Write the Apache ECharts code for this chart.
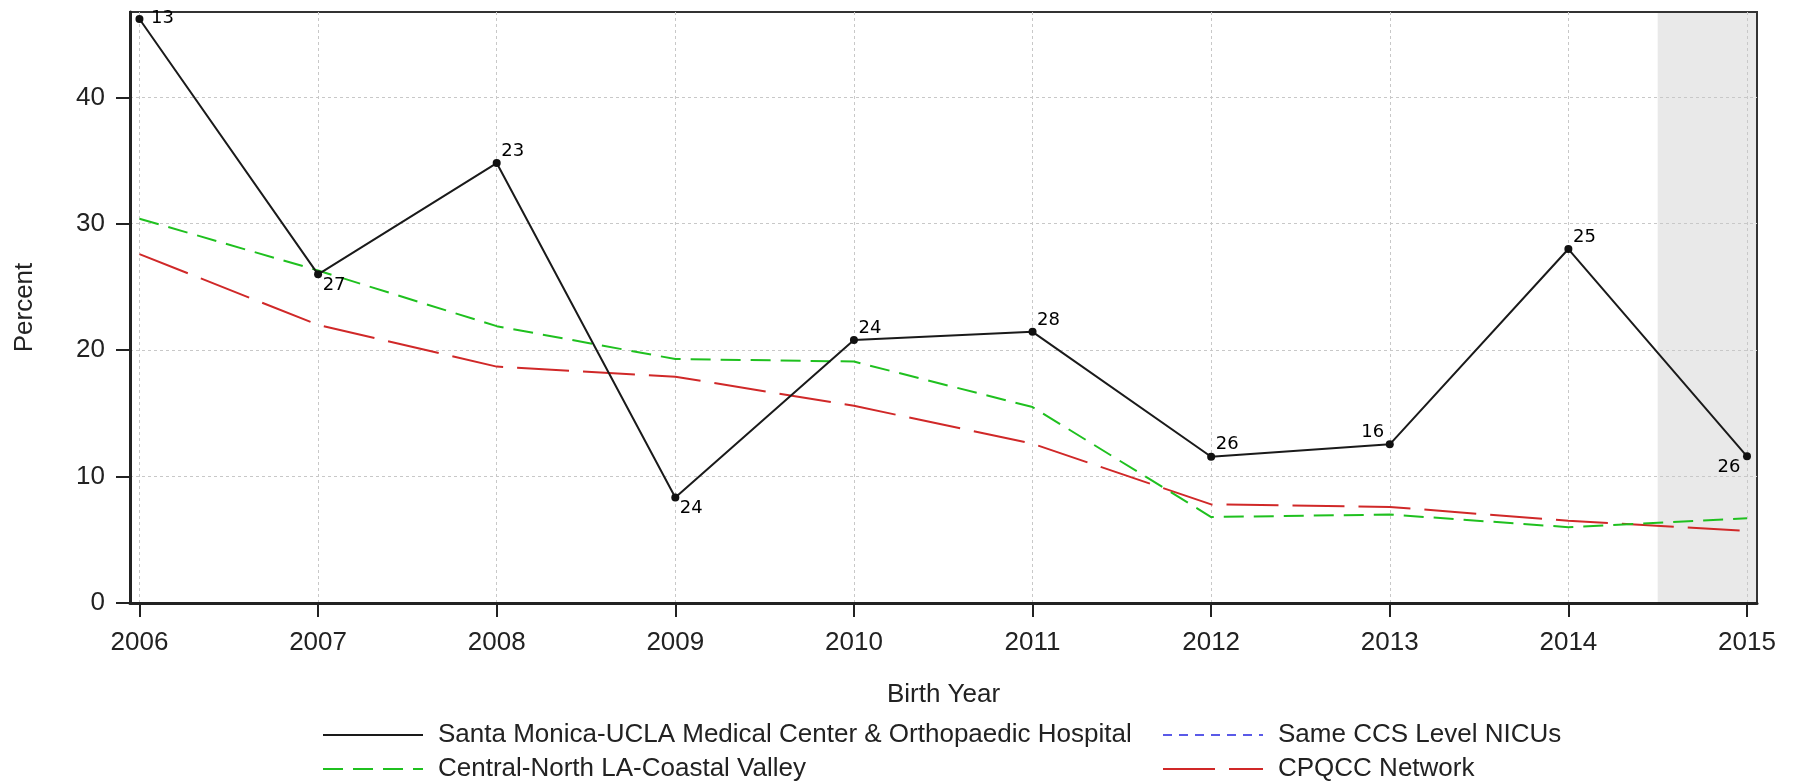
<!DOCTYPE html>
<html>
<head>
<meta charset="utf-8">
<title>Percent by Birth Year</title>
<script src="https://cdn.jsdelivr.net/npm/echarts@6/dist/echarts.min.js"></script>
<style>
	html, body { margin: 0; padding: 0; background: #fff; }
	#lineChart { width: 1795px; height: 781px; }
</style>
</head>
<body>
<div id="lineChart"></div>
<script>
/**
 * percent by birth year, hospital vs region vs network
 */
// values
var years = [2006, 2007, 2008, 2009, 2010, 2011, 2012, 2013, 2014, 2015];
var hospitalPct = [46.2, 26.0, 34.8, 8.35, 20.8, 21.45, 11.57, 12.55, 28.0, 11.6];
var hospitalN = [13, 27, 23, 24, 24, 28, 26, 16, 25, 26];
var regionPct = [30.4, 26.3, 21.9, 19.3, 19.1, 15.5, 6.8, 7.0, 6.0, 6.7];
var networkPct = [27.6, 22.0, 18.7, 17.9, 15.6, 12.6, 7.8, 7.6, 6.5, 5.7];
var sameLevelPct = [];
var yTicks = [0, 10, 20, 30, 40];
var shadeFrom = 2014.5;

var hospitalName = 'Santa Monica-UCLA Medical Center & Orthopaedic Hospital';
var sameLevelName = 'Same CCS Level NICUs';
var regionName = 'Central-North LA-Coastal Valley';
var networkName = 'CPQCC Network';

// axis extents (a little padding round the first / last year)
var xMin = 2005.947, xMax = 2015.056, yMax = 46.75;
var fontSans = '"Liberation Sans", Arial, sans-serif';

// where each count label sits round its point
var labelPos = {
	r : [27, 3],
	tr : [20, -8],
	br : [20, 15],
	tl : [-13, -8],
	bl : [-14, 15]
};
var labelCorner = ['r', 'br', 'tr', 'br', 'tr', 'tr', 'tr', 'tl', 'tr', 'bl'];

function pairs(vals) {
	var out = [];
	for (var i = 0; i < vals.length; i++) {
		out.push([years[i], vals[i]]);
	}
	return out;
}

var hospitalData = [];
for (var i = 0; i < years.length; i++) {
	hospitalData.push({
		value : [years[i], hospitalPct[i]],
		label : {
			formatter : String(hospitalN[i]),
			position : labelPos[labelCorner[i]]
		}
	});
}

var legendText = {
	fontFamily : fontSans,
	fontSize : 26,
	lineHeight : 22,
	color : '#222',
	padding : [0, 0, 0, 10]
};

var lineChart = echarts.init(document.getElementById('lineChart'));

lineChart.setOption({
	animation : false,
	backgroundColor : '#fff',
	grid : {
		left : 130,
		right : 38,
		top : 12,
		bottom : 178,
		outerBoundsMode : 'none',
		containLabel : false,
		show : true,
		borderColor : '#333',
		borderWidth : 2
	},
	legend : [{
		data : [hospitalName, regionName],
		orient : 'vertical',
		left : 322,
		top : 722,
		height : 90,
		padding : 0,
		itemWidth : 100,
		itemHeight : 14,
		itemGap : 8,
		itemStyle : { opacity : 0 },
		textStyle : legendText
	}, {
		data : [sameLevelName, networkName],
		orient : 'vertical',
		left : 1162,
		top : 722,
		height : 90,
		padding : 0,
		itemWidth : 100,
		itemHeight : 14,
		itemGap : 8,
		itemStyle : { opacity : 0 },
		textStyle : legendText
	}],
	xAxis : {
		type : 'value',
		min : xMin,
		max : xMax,
		name : 'Birth Year',
		nameLocation : 'middle',
		nameGap : 79,
		nameTextStyle : {
			fontFamily : fontSans,
			fontSize : 26,
			color : '#222'
		},
		axisLine : {
			show : true,
			onZero : false,
			lineStyle : { color : '#222', width : 3 }
		},
		axisTick : {
			show : true,
			customValues : years,
			length : 14,
			lineStyle : { color : '#222', width : 2 }
		},
		axisLabel : {
			customValues : years,
			margin : 27,
			fontFamily : fontSans,
			fontSize : 26,
			color : '#222',
			formatter : function(v) { return String(v); }
		},
		splitLine : {
			show : true,
			lineStyle : { color : '#c8c8c8', type : [3, 3], width : 1 }
		}
	},
	yAxis : {
		type : 'value',
		min : 0,
		max : yMax,
		name : 'Percent',
		nameLocation : 'middle',
		nameGap : 92,
		nameTextStyle : {
			fontFamily : fontSans,
			fontSize : 26,
			color : '#222'
		},
		axisLine : {
			show : true,
			lineStyle : { color : '#222', width : 3 }
		},
		axisTick : {
			show : true,
			customValues : yTicks,
			length : 14,
			lineStyle : { color : '#222', width : 2 }
		},
		axisLabel : {
			customValues : yTicks,
			margin : 25,
			fontFamily : fontSans,
			fontSize : 26,
			color : '#222'
		},
		splitLine : {
			show : true,
			lineStyle : { color : '#c8c8c8', type : [3, 3], width : 1 }
		}
	},
	series : [{
		name : hospitalName,
		type : 'line',
		z : 5,
		data : hospitalData,
		symbol : 'circle',
		symbolSize : 8,
		itemStyle : { color : '#111' },
		lineStyle : { color : '#1a1a1a', width : 2 },
		label : {
			show : true,
			align : 'center',
			verticalAlign : 'middle',
			fontFamily : '"DejaVu Sans", Verdana, sans-serif',
			fontSize : 18,
			color : '#000'
		}
	}, {
		name : sameLevelName,
		type : 'line',
		z : -1,
		data : sameLevelPct,
		symbol : 'none',
		itemStyle : { color : '#5a5ae8' },
		lineStyle : { color : '#5a5ae8', width : 2, type : [9, 7] },
		markArea : {
			silent : true,
			z : -1,
			itemStyle : { color : '#e9e9e9' },
			data : [[{ xAxis : shadeFrom }, { xAxis : xMax }]]
		}
	}, {
		name : regionName,
		type : 'line',
		z : 4,
		data : pairs(regionPct),
		symbol : 'none',
		itemStyle : { color : '#1fc01f' },
		lineStyle : { color : '#1fc01f', width : 2, type : [20, 10] }
	}, {
		name : networkName,
		type : 'line',
		z : 3,
		data : pairs(networkPct),
		symbol : 'none',
		itemStyle : { color : '#d02828' },
		lineStyle : { color : '#d02828', width : 2, type : [52, 14] }
	}]
});
</script>
</body>
</html>
